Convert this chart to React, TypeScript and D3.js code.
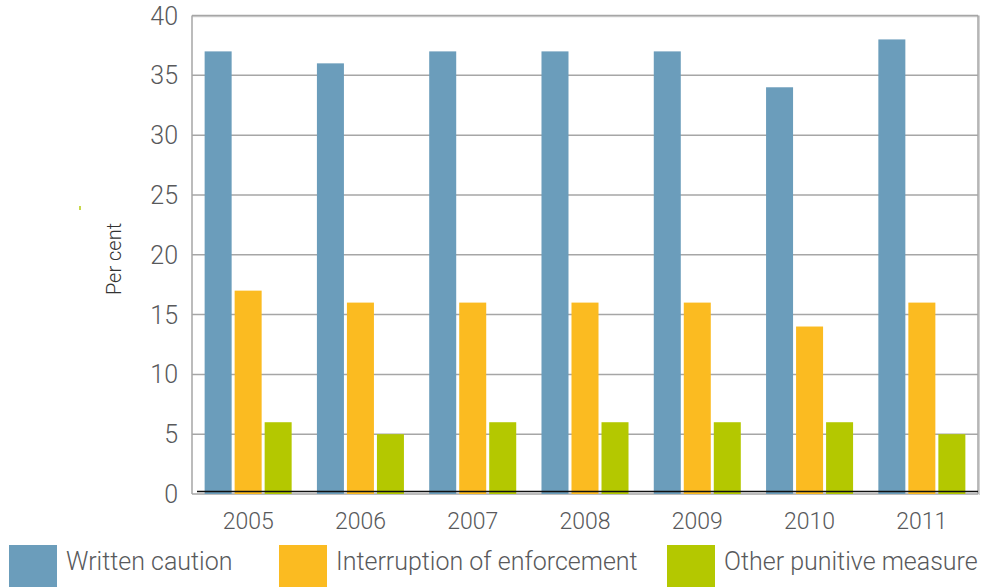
import React from "react";
import * as d3 from "d3";

const years = ["2005", "2006", "2007", "2008", "2009", "2010", "2011"];
const seriesNames = ["Written caution", "Interruption of enforcement", "Other punitive measure"];
const writtenCaution = [37, 36, 37, 37, 37, 34, 38];
const interruption = [17, 16, 16, 16, 16, 14, 16];
const otherMeasure = [6, 5, 6, 6, 6, 6, 5];
const yTicks = [0, 5, 10, 15, 20, 25, 30, 35, 40];
const colors = ["#6b9dbb", "#fbbb21", "#b4c800"];

const W = 981;
const H = 587;
const left = 192;
const right = 978;
const top = 15.5;
const bottom = 494;
const FONT = "Roboto, 'DejaVu Sans', sans-serif";
const TEXT = "#58595b";

export default function App() {
  const series = [writtenCaution, interruption, otherMeasure];
  const x = d3
    .scaleBand<string>()
    .domain(years)
    .range([left, right])
    .paddingInner(0.225)
    .paddingOuter(0.1125);
  const xInner = d3
    .scaleBand<number>()
    .domain([0, 1, 2])
    .range([0, x.bandwidth()])
    .paddingInner(0.1)
    .paddingOuter(0);
  const y = d3.scaleLinear().domain([0, 40]).range([bottom, top]);

  const legendX = [9, 279, 667];

  return (
    <div style={{ position: "fixed", left: 0, top: 0, width: W, height: H, overflow: "hidden" }}>
      <svg width={W} height={H} style={{ display: "block", fontFamily: FONT, fontWeight: 300 }}>
        <rect width={W} height={H} fill="#fff" />
        {/* gridlines */}
        {yTicks.slice(1, -1).map((t) => (
          <line key={t} x1={left} x2={right} y1={y(t)} y2={y(t)} stroke="#a6a6a6" strokeWidth={1.5} />
        ))}
        {/* frame with soft shadow */}
        <line x1={left} x2={right + 1} y1={top + 1} y2={top + 1} stroke="#d0d0d0" strokeWidth={1.5} />
        <line x1={right + 1.2} x2={right + 1.2} y1={top} y2={bottom + 1} stroke="#cfcfcf" strokeWidth={1.5} />
        <line x1={left} x2={right} y1={top} y2={top} stroke="#a6a6a6" strokeWidth={1.5} />
        <line x1={right} x2={right} y1={top} y2={bottom} stroke="#a6a6a6" strokeWidth={1.5} />
        <line x1={left} x2={left} y1={top} y2={bottom} stroke="#a6a6a6" strokeWidth={1.5} />
        <line x1={left} x2={right} y1={bottom} y2={bottom} stroke="#a6a6a6" strokeWidth={1.5} />
        {/* bars */}
        {years.map((yr, i) => (
          <g key={yr} transform={`translate(${x(yr)},0)`}>
            {series.map((vals, s) => (
              <rect
                key={s}
                x={xInner(s)}
                y={y(vals[i])}
                width={xInner.bandwidth()}
                height={bottom - y(vals[i])}
                fill={colors[s]}
              />
            ))}
          </g>
        ))}
        <line x1={left + 5} x2={right} y1={491.5} y2={491.5} stroke="#111" strokeWidth={1.5} />
        {/* y tick labels */}
        {yTicks.map((t) => (
          <text key={t} x={178} y={y(t)} dy="0.36em" textAnchor="end" fontSize={25} fill={TEXT}>
            {t}
          </text>
        ))}
        {/* x labels */}
        {years.map((yr) => (
          <text
            key={yr}
            x={(x(yr) as number) + x.bandwidth() / 2}
            y={529}
            textAnchor="middle"
            fontSize={23}
            fill={TEXT}
          >
            {yr}
          </text>
        ))}
        <text
          transform={`translate(121,259) rotate(-90)`}
          textAnchor="middle"
          fontSize={20}
          fill="#333"
        >
          Per cent
        </text>
        <rect x={79} y={206} width={2} height={4} fill="#c8d84a" />
        {/* legend */}
        {seriesNames.map((name, s) => (
          <g key={name}>
            <rect x={legendX[s]} y={545} width={48} height={50} fill={colors[s]} />
            <text x={legendX[s] + 57} y={569.5} fontSize={25} fill={TEXT}>
              {name}
            </text>
          </g>
        ))}
      </svg>
    </div>
  );
}
